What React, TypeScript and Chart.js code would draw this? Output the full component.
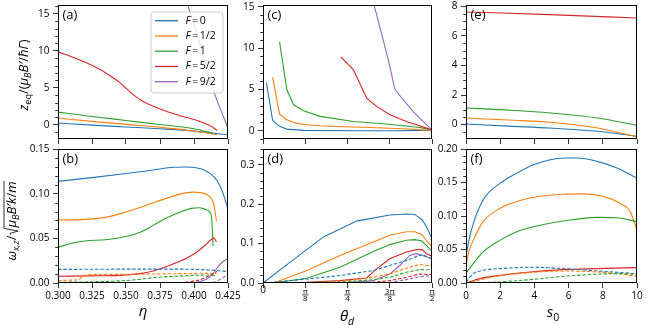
import React, { useEffect, useRef } from "react";
import { Chart, registerables } from "chart.js";
Chart.register(...registerables);

const FONT = '"Open Sans", "DejaVu Sans", sans-serif';
const BLUE = "#1f77b4";
const ORANGE = "#ff7f0e";
const GREEN = "#2ca02c";
const RED = "#d62728";
const PURPLE = "#9467bd";

type P = [number, number][];

// ---------- tick values / labels ----------
const etaTicks = [0.3, 0.325, 0.35, 0.375, 0.4, 0.425];
const thetaTicks = [0, Math.PI / 8, Math.PI / 4, (3 * Math.PI) / 8, Math.PI / 2];
const thetaNums = ["0", "π", "π", "3π", "π"];
const thetaDens = ["", "8", "4", "8", "2"];
const s0Ticks = [0, 2, 4, 6, 8, 10];
const zTicks = [0, 5, 10, 15];
const zeTicks = [0, 2, 4, 6, 8];
const wbTicks = [0, 0.05, 0.1, 0.15];
const wdTicks = [0, 0.1, 0.2, 0.3];
const wfTicks = [0, 0.05, 0.1, 0.15, 0.2];
const legendLabels = ["0", "1/2", "1", "5/2", "9/2"];
const legendColors = [BLUE, ORANGE, GREEN, RED, PURPLE];

// ---------- panel (a): z_eq vs eta ----------
const aF0: P = [[0.3, 0.23], [0.325, -0.05], [0.35, -0.3], [0.375, -0.55], [0.4, -0.86], [0.425, -1.35]];
const aF12: P = [[0.3, 0.9], [0.325, 0.45], [0.35, 0.05], [0.375, -0.35], [0.4, -0.85], [0.417, -1.35]];
const aF1: P = [[0.3, 1.7], [0.325, 1.12], [0.35, 0.57], [0.375, 0.02], [0.4, -0.55], [0.414, -1.15]];
const aF52: P = [[0.3, 9.85], [0.31, 9.2], [0.32, 8.45], [0.33, 7.55], [0.338, 6.65], [0.345, 5.75], [0.35, 4.95], [0.355, 4.1], [0.362, 3.2], [0.37, 2.5], [0.38, 1.8], [0.392, 1.12], [0.404, 0.45], [0.412, -0.15], [0.417, -0.75]];
const aF92: P = [[0.395, 16.6], [0.3958, 16], [0.402, 12.4], [0.4069, 9.2], [0.4118, 6.1], [0.4167, 3.4], [0.4216, 1.1], [0.425, -0.45]];

// ---------- panel (b): omega vs eta ----------
const bF0: P = [[0.3, 0.1138], [0.325, 0.118], [0.35, 0.1225], [0.37, 0.1265], [0.385, 0.1295], [0.395, 0.1298], [0.405, 0.1278], [0.412, 0.1225], [0.417, 0.1145], [0.421, 0.102], [0.4235, 0.09], [0.425, 0.083]];
const bF12: P = [[0.3, 0.0705], [0.32, 0.0712], [0.335, 0.0735], [0.35, 0.0795], [0.365, 0.087], [0.38, 0.095], [0.392, 0.1003], [0.4, 0.1017], [0.405, 0.1012], [0.41, 0.0985], [0.413, 0.094], [0.415, 0.085], [0.4165, 0.069]];
const bF1: P = [[0.3, 0.04], [0.31, 0.0445], [0.32, 0.047], [0.335, 0.0485], [0.35, 0.052], [0.36, 0.0565], [0.37, 0.0645], [0.38, 0.073], [0.39, 0.0795], [0.398, 0.0835], [0.404, 0.0843], [0.409, 0.082], [0.4125, 0.077], [0.4135, 0.06], [0.414, 0.0415]];
const bF52: P = [[0.3, 0.0075], [0.325, 0.008], [0.345, 0.0085], [0.36, 0.0105], [0.37, 0.0135], [0.38, 0.0185], [0.39, 0.0245], [0.4, 0.0325], [0.408, 0.042], [0.413, 0.049], [0.4145, 0.0505], [0.4165, 0.046]];
const bF92: P = [[0.3985, 0], [0.405, 0.002], [0.41, 0.005], [0.414, 0.0105], [0.418, 0.019], [0.421, 0.0235], [0.425, 0.0275]];
const bF0d: P = [[0.3, 0.0152], [0.35, 0.0155], [0.39, 0.0155], [0.405, 0.015], [0.415, 0.0142], [0.425, 0.0128]];
const bF12d: P = [[0.3, 0.0028], [0.31, 0.0032], [0.316, 0.0045], [0.318, 0.0082], [0.33, 0.0095], [0.36, 0.0099], [0.39, 0.0105], [0.41, 0.011], [0.4165, 0.0105]];
const bF1d: P = [[0.3, 0.0008], [0.32, 0.0012], [0.34, 0.002], [0.36, 0.004], [0.37, 0.006], [0.385, 0.0075], [0.4, 0.0085], [0.41, 0.009], [0.416, 0.0085]];
const bF52d: P = [[0.3, 0], [0.38, 0], [0.395, 0.001], [0.405, 0.004], [0.412, 0.0085], [0.417, 0.013]];
const bF92d: P = [[0.414, 0], [0.418, 0.003], [0.422, 0.0065], [0.425, 0.01]];

// ---------- panel (c): z_eq vs theta_d ----------
const cF0: P = [[0.031, 5.86], [0.0895, 1.25], [0.154, 0.53], [0.222, 0.2], [0.377, 0.04], [0.84, 0.0], [1.2, 0.0], [1.571, 0.05]];
const cF12: P = [[0.0895, 6.5], [0.154, 2.02], [0.222, 1.33], [0.3, 0.95], [0.377, 0.75], [0.53, 0.6], [0.685, 0.52], [0.994, 0.4], [1.3, 0.24], [1.571, 0.05]];
const cF1: P = [[0.154, 10.75], [0.222, 4.97], [0.284, 3.15], [0.377, 2.43], [0.53, 1.74], [0.84, 1.13], [1.15, 0.81], [1.457, 0.4], [1.571, 0.1]];
const cF52: P = [[0.722, 8.94], [0.84, 7.4], [0.91, 5.46], [0.963, 3.96], [1.056, 2.95], [1.18, 1.94], [1.333, 1.13], [1.571, 0.1]];
const cF92: P = [[1.03, 15.6], [1.04, 14.85], [1.117, 11.0], [1.179, 7.8], [1.225, 5.05], [1.302, 3.76], [1.395, 2.35], [1.488, 1.13], [1.571, 0.1]];

// ---------- panel (d): omega vs theta_d ----------
const dF0: P = [[0, 0], [0.253, 0.053], [0.562, 0.117], [0.87, 0.157], [1.179, 0.1726], [1.333, 0.175], [1.41, 0.174], [1.481, 0.16], [1.519, 0.143], [1.571, 0.113]];
const dF12: P = [[0.099, 0], [0.407, 0.0316], [0.716, 0.07], [1.025, 0.104], [1.179, 0.121], [1.333, 0.13], [1.41, 0.13], [1.472, 0.124], [1.519, 0.1085], [1.571, 0.0915]];
const dF1: P = [[0.099, 0], [0.407, 0.012], [0.716, 0.04], [1.025, 0.08], [1.179, 0.0974], [1.333, 0.1085], [1.41, 0.11], [1.472, 0.107], [1.519, 0.0957], [1.571, 0.08]];
const dF52: P = [[0, 0], [0.407, 0.002], [0.716, 0.006], [0.963, 0.0128], [1.055, 0.036], [1.179, 0.0615], [1.333, 0.0786], [1.426, 0.0846], [1.481, 0.0846], [1.519, 0.0744], [1.571, 0.068]];
const dF92: P = [[0.716, 0], [1.025, 0.006], [1.179, 0.023], [1.271, 0.0444], [1.364, 0.07], [1.426, 0.0744], [1.481, 0.07], [1.571, 0.0615]];
const dF0d: P = [[0, 0], [0.407, 0.01], [0.716, 0.019], [1.025, 0.0316], [1.179, 0.0444], [1.333, 0.057], [1.426, 0.0675], [1.481, 0.072], [1.571, 0.0615]];
const dF12d: P = [[0.099, 0], [0.716, 0.0034], [1.025, 0.0145], [1.179, 0.023], [1.333, 0.0376], [1.457, 0.047], [1.571, 0.043]];
const dF1d: P = [[0.099, 0], [0.716, 0.002], [1.025, 0.0085], [1.179, 0.0145], [1.333, 0.0274], [1.457, 0.034], [1.571, 0.0333]];
const dF52d: P = [[0.716, 0], [1.025, 0.002], [1.179, 0.006], [1.333, 0.0145], [1.457, 0.023], [1.571, 0.021]];
const dF92d: P = [[1.025, 0], [1.179, 0.002], [1.333, 0.0085], [1.457, 0.016], [1.571, 0.019]];

// ---------- panel (e): z_eq vs s0 ----------
const eF0: P = [[0, 0.045], [2.5, -0.1], [4.9, -0.23], [7.7, -0.45], [10, -0.79]];
const eF12: P = [[0, 0.45], [2.5, 0.31], [4.9, 0.16], [7.7, -0.23], [10, -0.83]];
const eF1: P = [[0, 1.13], [2.5, 0.98], [4.9, 0.79], [7.7, 0.45], [10, -0.05]];
const eF52: P = [[0, 7.62], [4.9, 7.44], [10, 7.21]];

// ---------- panel (f): omega vs s0 ----------
const fF0: P = [[0, 0.039], [0.15, 0.0615], [0.43, 0.089], [1, 0.124], [2, 0.149], [2.97, 0.164], [3.95, 0.1765], [5.7, 0.1865], [6.5, 0.1865], [7.66, 0.1815], [8.83, 0.1715], [10, 0.1565]];
const fF12: P = [[0, 0.025], [0.15, 0.045], [0.43, 0.064], [1, 0.0915], [2, 0.1115], [2.97, 0.1215], [3.95, 0.128], [5.7, 0.1325], [6.9, 0.133], [8.05, 0.129], [9.0, 0.119], [9.6, 0.1065], [10, 0.079]];
const fF1: P = [[0, 0.015], [0.43, 0.029], [1, 0.0465], [2, 0.064], [2.97, 0.0765], [3.95, 0.084], [5.7, 0.0925], [7.66, 0.098], [8.83, 0.0975], [10, 0.0915]];
const fF52: P = [[0, 0], [0.82, 0.0065], [2, 0.0115], [3.75, 0.0165], [5.7, 0.02], [7.66, 0.0215], [10, 0.023]];
const fF0d: P = [[0, 0.0015], [0.43, 0.014], [1, 0.019], [2, 0.0215], [3.95, 0.0235], [5.7, 0.0215], [7.66, 0.018], [10, 0.014]];
const fF12d: P = [[0, 0], [1.8, 0.01], [3.75, 0.0155], [5.7, 0.018], [7.66, 0.0165], [9.2, 0.013], [10, 0.01]];
const fF1d: P = [[0, 0], [1.8, 0.0015], [3.75, 0.005], [5.7, 0.01], [7.66, 0.013], [8.83, 0.014], [10, 0.013]];

// ---------- rich text helpers ----------
type Seg = { t: string; it?: boolean; sub?: boolean };
const segFont = (s: Seg, size: number) => `${s.it ? "italic " : ""}${s.sub ? size * 0.7 : size}px ${FONT}`;
function segsWidth(ctx: CanvasRenderingContext2D, segs: Seg[], size: number) {
  let w = 0;
  for (const s of segs) { ctx.font = segFont(s, size); w += ctx.measureText(s.t).width; }
  return w;
}
function drawSegs(ctx: CanvasRenderingContext2D, segs: Seg[], x: number, y: number, size: number) {
  let cx = x;
  for (const s of segs) {
    ctx.font = segFont(s, size);
    ctx.fillText(s.t, cx, y + (s.sub ? size * 0.27 : 0));
    cx += ctx.measureText(s.t).width;
  }
  return cx;
}

const topTitle: Seg[] = [{ t: "z", it: true }, { t: "eq", sub: true }, { t: "/(" }, { t: "μ", it: true }, { t: "B", it: true, sub: true }, { t: "B′", it: true }, { t: "/" }, { t: "ħΓ", it: true }, { t: ")" }];
const botTitlePre: Seg[] = [{ t: "ω", it: true }, { t: "x,z", it: true, sub: true }, { t: "/" }];
const botTitleRad: Seg[] = [{ t: "μ", it: true }, { t: "B", it: true, sub: true }, { t: "B′k", it: true }, { t: "/" }, { t: "m", it: true }];
const etaTitle: Seg[] = [{ t: "η", it: true }];
const thetaTitle: Seg[] = [{ t: "θ", it: true }, { t: "d", it: true, sub: true }];
const s0Title: Seg[] = [{ t: "s", it: true }, { t: "0", sub: true }];

function drawCentered(ctx: CanvasRenderingContext2D, segs: Seg[], cx: number, by: number, size: number) {
  const w = segsWidth(ctx, segs, size);
  drawSegs(ctx, segs, cx - w / 2, by, size);
}

// ---------- panels ----------
interface Series { data: P; color: string; dashed?: boolean }
interface Panel {
  key: string; tag: string;
  l: number; t: number; w: number; h: number;
  ml: number; mr: number; mt: number; mb: number;
  xMin: number; xMax: number; xTicks: number[]; xLabel: ((v: number, i: number) => string | string[]) | null; xPad: number;
  yMin: number; yMax: number; yTicks: number[]; yMinor: number; yFmt: (v: number) => string;
  series: Series[]; smooth: boolean; fracTicks?: boolean;
  extra?: (ctx: CanvasRenderingContext2D, chart: any) => void;
}

const solid = (data: P, color: string): Series => ({ data, color });
const dash = (data: P, color: string): Series => ({ data, color, dashed: true });

const panels: Panel[] = [
  {
    key: "a", tag: "(a)", l: 58, t: 5, w: 170, h: 134, ml: 58, mr: 16, mt: 10, mb: 10,
    xMin: 0.3, xMax: 0.425, xTicks: etaTicks, xLabel: null, xPad: 2,
    yMin: -1.93, yMax: 16.18, yTicks: zTicks, yMinor: 1, yFmt: (v) => String(v),
    series: [solid(aF0, BLUE), solid(aF12, ORANGE), solid(aF1, GREEN), solid(aF52, RED), solid(aF92, PURPLE)],
    smooth: true,
    extra: (ctx) => {
      // legend
      ctx.save();
      const x0 = 151, y0 = 12, w = 72, h = 81, r = 3;
      ctx.beginPath();
      ctx.moveTo(x0 + r, y0);
      ctx.arcTo(x0 + w, y0, x0 + w, y0 + h, r);
      ctx.arcTo(x0 + w, y0 + h, x0, y0 + h, r);
      ctx.arcTo(x0, y0 + h, x0, y0, r);
      ctx.arcTo(x0, y0, x0 + w, y0, r);
      ctx.closePath();
      ctx.fillStyle = "rgba(255,255,255,0.8)";
      ctx.fill();
      ctx.strokeStyle = "#cccccc";
      ctx.lineWidth = 1;
      ctx.stroke();
      legendLabels.forEach((lab, i) => {
        const y = 20.7 + i * 15.25;
        ctx.strokeStyle = legendColors[i];
        ctx.lineWidth = 1.3;
        ctx.beginPath(); ctx.moveTo(155, y); ctx.lineTo(178, y); ctx.stroke();
        ctx.fillStyle = "#000";
        ctx.textBaseline = "middle";
        ctx.textAlign = "left";
        ctx.font = `italic 10.5px ${FONT}`;
        ctx.fillText("F", 185.5, y);
        ctx.font = `10.5px ${FONT}`;
        ctx.fillText("=", 192.3, y);
        ctx.fillText(lab, 199.8, y);
      });
      // y title top row
      ctx.textBaseline = "alphabetic";
      ctx.translate(27.5, 75);
      ctx.rotate(-Math.PI / 2);
      ctx.fillStyle = "#000";
      const tw = segsWidth(ctx, topTitle, 13);
      drawSegs(ctx, topTitle, -tw / 2, 0, 13);
      ctx.restore();
    },
  },
  {
    key: "b", tag: "(b)", l: 58, t: 149, w: 170, h: 134, ml: 58, mr: 16, mt: 10, mb: 42,
    xMin: 0.3, xMax: 0.425, xTicks: etaTicks, xLabel: (v) => v.toFixed(3), xPad: 2,
    yMin: 0, yMax: 0.15, yTicks: wbTicks, yMinor: 0.01, yFmt: (v) => v.toFixed(2),
    series: [solid(bF0, BLUE), solid(bF12, ORANGE), solid(bF1, GREEN), solid(bF52, RED), solid(bF92, PURPLE),
      dash(bF0d, BLUE), dash(bF12d, ORANGE), dash(bF1d, GREEN), dash(bF52d, RED), dash(bF92d, PURPLE)],
    smooth: true,
    extra: (ctx) => {
      ctx.save();
      ctx.fillStyle = "#000";
      ctx.strokeStyle = "#000";
      ctx.textBaseline = "alphabetic";
      drawCentered(ctx, etaTitle, 143, 316.3, 15);
      // y title bottom row with radical
      ctx.translate(15.5, 221);
      ctx.rotate(-Math.PI / 2);
      const size = 13;
      const wPre = segsWidth(ctx, botTitlePre, size);
      const wRad = segsWidth(ctx, botTitleRad, size);
      const total = wPre + 8 + wRad;
      let x = -total / 2;
      x = drawSegs(ctx, botTitlePre, x, 0, size);
      ctx.lineWidth = 0.8;
      ctx.beginPath();
      ctx.moveTo(x + 0.5, -4.5);
      ctx.lineTo(x + 2.2, -5.5);
      ctx.lineTo(x + 4.5, 2.5);
      ctx.lineTo(x + 7.2, -11.5);
      ctx.lineTo(x + 8 + wRad + 0.5, -11.5);
      ctx.stroke();
      drawSegs(ctx, botTitleRad, x + 8, 0, size);
      ctx.restore();
    },
  },
  {
    key: "c", tag: "(c)", l: 263, t: 5, w: 169, h: 134, ml: 40, mr: 16, mt: 10, mb: 10,
    xMin: 0, xMax: Math.PI / 2, xTicks: thetaTicks, xLabel: null, xPad: 2,
    yMin: -1.0, yMax: 15.24, yTicks: zTicks, yMinor: 1, yFmt: (v) => String(v),
    series: [solid(cF0, BLUE), solid(cF12, ORANGE), solid(cF1, GREEN), solid(cF52, RED), solid(cF92, PURPLE)],
    smooth: false,
  },
  {
    key: "d", tag: "(d)", l: 263, t: 149, w: 169, h: 134, ml: 40, mr: 16, mt: 10, mb: 42,
    xMin: 0, xMax: Math.PI / 2, xTicks: thetaTicks,
    xLabel: (_v, i) => (i === 0 ? "0" : [thetaNums[i], thetaDens[i]]), xPad: 0,
    yMin: 0, yMax: 0.34, yTicks: wdTicks, yMinor: 0.02, yFmt: (v) => v.toFixed(1),
    series: [solid(dF0, BLUE), solid(dF12, ORANGE), solid(dF1, GREEN), solid(dF52, RED), solid(dF92, PURPLE),
      dash(dF0d, BLUE), dash(dF12d, ORANGE), dash(dF1d, GREEN), dash(dF52d, RED), dash(dF92d, PURPLE)],
    smooth: false, fracTicks: true,
    extra: (ctx, chart) => {
      ctx.save();
      ctx.fillStyle = "#000";
      ctx.strokeStyle = "#000";
      ctx.lineWidth = 0.7;
      const xs = chart.scales.x;
      const yb = 282.7 + 5 + 7.2;
      ctx.font = `8px ${FONT}`;
      for (let i = 1; i < thetaTicks.length; i++) {
        const px = xs.getPixelForValue(thetaTicks[i]) + 263 - 40;
        const w = Math.max(ctx.measureText(thetaNums[i]).width, ctx.measureText(thetaDens[i]).width) + 1;
        ctx.beginPath(); ctx.moveTo(px - w / 2, yb); ctx.lineTo(px + w / 2, yb); ctx.stroke();
      }
      ctx.textBaseline = "alphabetic";
      drawCentered(ctx, thetaTitle, 347, 321, 15);
      ctx.restore();
    },
  },
  {
    key: "e", tag: "(e)", l: 466, t: 5, w: 171, h: 134, ml: 40, mr: 12, mt: 10, mb: 10,
    xMin: 0, xMax: 10, xTicks: s0Ticks, xLabel: null, xPad: 2,
    yMin: -0.97, yMax: 8.09, yTicks: zeTicks, yMinor: 0.5, yFmt: (v) => String(v),
    series: [solid(eF0, BLUE), solid(eF12, ORANGE), solid(eF1, GREEN), solid(eF52, RED)],
    smooth: true,
  },
  {
    key: "f", tag: "(f)", l: 466, t: 149, w: 171, h: 134, ml: 40, mr: 12, mt: 10, mb: 42,
    xMin: 0, xMax: 10, xTicks: s0Ticks, xLabel: (v) => String(v), xPad: 2,
    yMin: 0, yMax: 0.2, yTicks: wfTicks, yMinor: 0.01, yFmt: (v) => v.toFixed(2),
    series: [solid(fF0, BLUE), solid(fF12, ORANGE), solid(fF1, GREEN), solid(fF52, RED),
      dash(fF0d, BLUE), dash(fF12d, ORANGE), dash(fF1d, GREEN)],
    smooth: true,
    extra: (ctx) => {
      ctx.save();
      ctx.fillStyle = "#000";
      ctx.textBaseline = "alphabetic";
      drawCentered(ctx, s0Title, 553, 316.7, 15);
      ctx.restore();
    },
  },
];

function buildChart(canvas: HTMLCanvasElement, p: Panel) {
  const cl = p.l - p.ml;
  const ct = p.t - p.mt;
  const n = p.series.length;
  const datasets = p.series.map((s, i) => ({
    data: s.data.map(([x, y]) => ({ x, y })),
    borderColor: s.color,
    backgroundColor: s.color,
    borderWidth: 1.1,
    borderDash: s.dashed ? [3.5, 1.8] : [],
    pointRadius: 0,
    showLine: true,
    fill: false,
    order: n - i,
    tension: p.smooth ? 0.4 : 0,
    cubicInterpolationMode: p.smooth ? "monotone" : "default",
  }));
  const tickFont = { family: FONT, size: 10 };
  const overlay = {
    id: "overlay_" + p.key,
    afterDraw(chart: any) {
      const ctx: CanvasRenderingContext2D = chart.ctx;
      const a = chart.chartArea;
      const ys = chart.scales.y;
      ctx.save();
      ctx.strokeStyle = "#000";
      ctx.lineWidth = 0.8;
      const start = Math.ceil(p.yMin / p.yMinor - 1e-9);
      for (let k = start; k * p.yMinor <= p.yMax + 1e-9; k++) {
        const v = k * p.yMinor;
        if (p.yTicks.some((t) => Math.abs(t - v) < p.yMinor * 0.01)) continue;
        const py = Math.round(ys.getPixelForValue(v)) + 0.5;
        ctx.beginPath(); ctx.moveTo(a.left, py); ctx.lineTo(a.left - 2.8, py); ctx.stroke();
      }
      ctx.lineWidth = 1;
      ctx.strokeRect(a.left + 0.5, a.top + 0.5, a.right - a.left - 1, a.bottom - a.top - 1);
      ctx.fillStyle = "#000";
      ctx.textAlign = "left";
      ctx.textBaseline = "alphabetic";
      ctx.font = `13px ${FONT}`;
      ctx.fillText(p.tag, a.left + 4.5, a.top + 14);
      ctx.restore();
      if (p.extra) {
        ctx.save();
        ctx.translate(-cl, -ct);
        p.extra(ctx, chart);
        ctx.restore();
      }
    },
  };
  return new Chart(canvas, {
    type: "scatter",
    data: { datasets } as any,
    options: {
      responsive: false,
      maintainAspectRatio: false,
      devicePixelRatio: 1,
      animation: false,
      events: [],
      layout: { padding: { left: 0, right: p.mr, top: p.mt, bottom: 0 } },
      plugins: { legend: { display: false }, tooltip: { enabled: false } },
      scales: {
        x: {
          type: "linear",
          min: p.xMin,
          max: p.xMax,
          afterBuildTicks: (s: any) => { s.ticks = p.xTicks.map((v) => ({ value: v })); },
          afterFit: (s: any) => { s.height = p.mb; },
          grid: { display: true, drawOnChartArea: false, drawTicks: true, tickLength: 5, color: "#000", lineWidth: 0.8 },
          border: { display: false },
          ticks: {
            display: p.xLabel !== null,
            autoSkip: false,
            maxRotation: 0,
            minRotation: 0,
            padding: p.xPad,
            color: "#000",
            font: p.fracTicks
              ? ((c: any) => (c.index === 0 ? { family: FONT, size: 10, lineHeight: 0.35 } : { family: FONT, size: 8, lineHeight: 0.9 })) as any
              : tickFont,
            callback: (v: any, i: number) => (p.xLabel ? p.xLabel(Number(v), i) : ""),
          },
        },
        y: {
          type: "linear",
          min: p.yMin,
          max: p.yMax,
          afterBuildTicks: (s: any) => { s.ticks = p.yTicks.map((v) => ({ value: v })); },
          afterFit: (s: any) => { s.width = p.ml; },
          grid: { display: true, drawOnChartArea: false, drawTicks: true, tickLength: 5, color: "#000", lineWidth: 0.8 },
          border: { display: false },
          ticks: {
            autoSkip: false,
            padding: 3.5,
            color: "#000",
            font: tickFont,
            callback: (v: any) => p.yFmt(Number(v)),
          },
        },
      },
    } as any,
    plugins: [overlay],
  });
}

function PanelCanvas({ p }: { p: Panel }) {
  const ref = useRef<HTMLCanvasElement>(null);
  useEffect(() => {
    const chart = buildChart(ref.current as HTMLCanvasElement, p);
    return () => chart.destroy();
  }, []);
  const cl = p.l - p.ml;
  const ct = p.t - p.mt;
  const cw = p.w + p.ml + p.mr;
  const ch = p.h + p.mt + p.mb;
  return (
    <canvas
      ref={ref}
      width={cw}
      height={ch}
      style={{ position: "absolute", left: cl, top: ct, width: cw, height: ch }}
    />
  );
}

export default function App() {
  return (
    <div style={{ position: "absolute", left: 0, top: 0, width: 650, height: 325, overflow: "hidden", background: "#fff" }}>
      {panels.map((p) => (
        <PanelCanvas key={p.key} p={p} />
      ))}
    </div>
  );
}
